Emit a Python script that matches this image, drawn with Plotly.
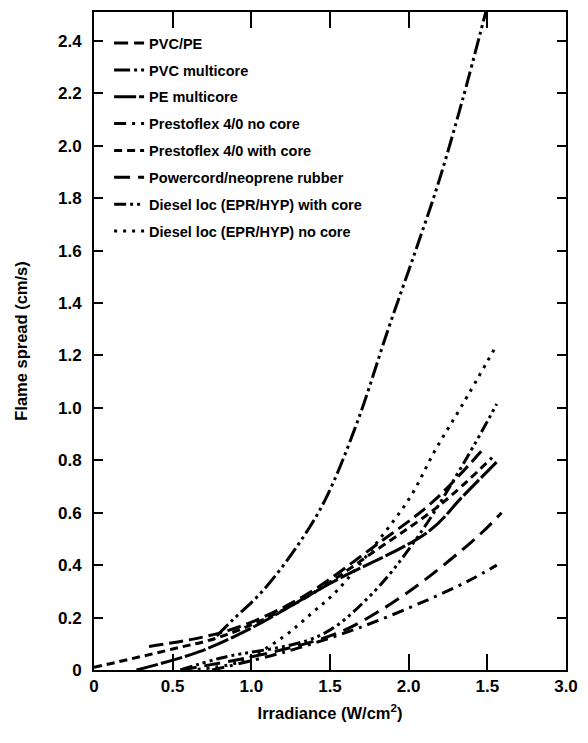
import plotly.graph_objects as go

# ---- data ----
names = ["PVC/PE", "PVC multicore", "PE multicore", "Prestoflex 4/0 no core",
         "Prestoflex 4/0 with core", "Powercord/neoprene rubber",
         "Diesel loc (EPR/HYP) with core", "Diesel loc (EPR/HYP) no core"]

pvc_pe_x = [0.35, 0.85, 1.30, 1.80, 2.15, 2.47]
pvc_pe_y = [0.09, 0.15, 0.27, 0.48, 0.64, 0.84]

pvc_multi_x = [0.78, 0.88, 1.07, 1.30, 1.47, 1.67, 1.87, 2.05, 2.19, 2.34, 2.49]
pvc_multi_y = [0.13, 0.19, 0.30, 0.48, 0.65, 0.94, 1.30, 1.61, 1.86, 2.17, 2.51]

pe_multi_x = [0.27, 0.67, 1.00, 1.50, 2.13, 2.34, 2.57]
pe_multi_y = [0.00, 0.07, 0.16, 0.33, 0.53, 0.66, 0.80]

presto_no_x = [0.75, 1.22, 1.68, 2.13, 2.38, 2.56]
presto_no_y = [0.00, 0.07, 0.16, 0.27, 0.34, 0.40]

presto_with_x = [0.00, 0.50, 0.82, 1.30, 1.80, 2.20, 2.53]
presto_with_y = [0.01, 0.08, 0.13, 0.26, 0.46, 0.63, 0.81]

powercord_x = [0.55, 1.00, 1.40, 1.62, 1.98, 2.44, 2.59]
powercord_y = [0.00, 0.05, 0.11, 0.16, 0.29, 0.51, 0.60]

diesel_with_x = [0.55, 0.80, 1.43, 1.75, 2.06, 2.37, 2.56]
diesel_with_y = [0.00, 0.045, 0.13, 0.28, 0.51, 0.81, 1.015]

diesel_no_x = [0.60, 0.92, 1.20, 1.39, 1.54, 1.79, 2.01, 2.17, 2.34, 2.55]
diesel_no_y = [0.00, 0.03, 0.125, 0.22, 0.30, 0.48, 0.66, 0.84, 1.01, 1.23]

x_tickvals = [0, 0.5, 1.0, 1.5, 2.0, 2.5, 3.0]
x_ticktext = ["0", "0.5", "1.0", "1.5", "2.0", "1.5", "3.0"]
y_tickvals = [0, 0.2, 0.4, 0.6, 0.8, 1.0, 1.2, 1.4, 1.6, 1.8, 2.0, 2.2, 2.4]
y_ticktext = ["0", "0.2", "0.4", "0.6", "0.8", "1.0", "1.2", "1.4", "1.6", "1.8", "2.0", "2.2", "2.4"]

series = [
    (pvc_pe_x, pvc_pe_y, "14px,6px"),
    (pvc_multi_x, pvc_multi_y, "16px,4px,3px,4px,3px,4px"),
    (pe_multi_x, pe_multi_y, "22px,3px"),
    (presto_no_x, presto_no_y, "12px,6px,3px,6px"),
    (presto_with_x, presto_with_y, "8px,5px"),
    (powercord_x, powercord_y, "16px,8px"),
    (diesel_with_x, diesel_with_y, "12px,4px,3px,4px,3px,4px,3px,4px"),
    (diesel_no_x, diesel_no_y, "3px,6px"),
]

FONT = "Liberation Sans"
fig = go.Figure()
for i, (xs, ys, dash) in enumerate(series):
    fig.add_trace(go.Scatter(
        x=xs, y=ys, mode="lines", name=names[i], legendgroup=f"g{i}",
        line=dict(color="black", width=3, dash=dash, shape="spline", smoothing=1.0),
    ))

fig.update_layout(
    width=588, height=743,
    margin=dict(l=94, r=21, t=10, b=73),
    paper_bgcolor="white", plot_bgcolor="white",
    font=dict(family=FONT, color="black", size=14, weight="bold"),
    showlegend=True,
    legend=dict(x=0.032, y=0.977, xanchor="left", yanchor="top",
                bgcolor="rgba(0,0,0,0)", font=dict(size=14.5, weight="bold"),
                tracegroupgap=5, itemwidth=30),
    xaxis=dict(range=[0, 3], tickvals=x_tickvals, ticktext=x_ticktext,
               ticks="inside", ticklen=16, tickwidth=1.5, tickcolor="black",
               showline=True, linewidth=2, linecolor="black", mirror="ticks",
               showgrid=False, zeroline=False,
               title=dict(text="Irradiance (W/cm<sup>2</sup>)", standoff=12,
                          font=dict(size=16.5, weight="bold")),
               tickfont=dict(size=17, weight="bold")),
    yaxis=dict(range=[0, 2.51], tickvals=y_tickvals, ticktext=y_ticktext,
               ticks="inside", ticklen=9, tickwidth=1.5, tickcolor="black",
               showline=True, linewidth=2, linecolor="black", mirror="ticks",
               showgrid=False, zeroline=False, ticklabelstandoff=7,
               title=dict(text="Flame spread (cm/s)", standoff=26,
                          font=dict(size=16.5, weight="bold")),
               tickfont=dict(size=17, weight="bold")),
)

fig.write_html("out.html")
